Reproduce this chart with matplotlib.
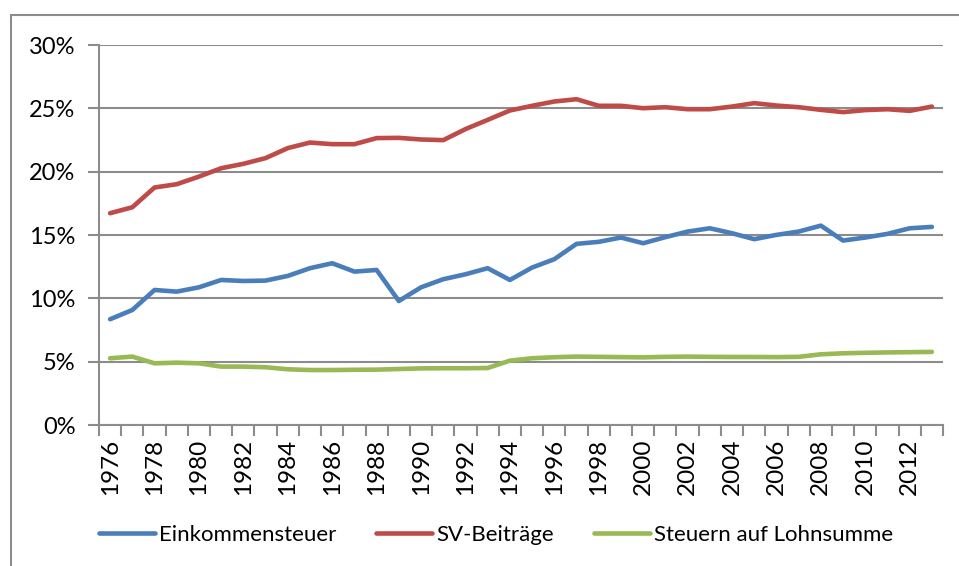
import numpy as np
import matplotlib
matplotlib.use("Agg")
import matplotlib.pyplot as plt
from matplotlib.ticker import FixedLocator, FuncFormatter
from matplotlib.patches import Rectangle

plt.rcParams['font.family'] = ['Lato', 'DejaVu Sans']

years = list(range(1976, 2014))

# Anteile in Prozent
einkommensteuer = [8.35, 9.08, 10.66, 10.53, 10.87, 11.45, 11.37, 11.40, 11.77, 12.38,
                   12.77, 12.11, 12.24, 9.79, 10.87, 11.51, 11.90, 12.38, 11.45, 12.43,
                   13.09, 14.30, 14.46, 14.80, 14.35, 14.83, 15.27, 15.53, 15.14, 14.67,
                   15.01, 15.27, 15.74, 14.56, 14.80, 15.09, 15.53, 15.64]
sv_beitraege = [16.72, 17.19, 18.75, 19.01, 19.61, 20.27, 20.62, 21.07, 21.86, 22.30,
                22.17, 22.17, 22.65, 22.67, 22.54, 22.49, 23.36, 24.09, 24.83, 25.20,
                25.54, 25.72, 25.20, 25.20, 25.01, 25.09, 24.93, 24.93, 25.14, 25.41,
                25.22, 25.09, 24.88, 24.70, 24.86, 24.93, 24.80, 25.14]
lohnsumme = [5.27, 5.40, 4.87, 4.92, 4.87, 4.61, 4.61, 4.56, 4.40, 4.34,
             4.34, 4.36, 4.37, 4.42, 4.47, 4.48, 4.48, 4.50, 5.08, 5.27,
             5.35, 5.40, 5.38, 5.36, 5.34, 5.38, 5.40, 5.38, 5.37, 5.37,
             5.36, 5.38, 5.58, 5.66, 5.70, 5.73, 5.75, 5.77]

labels = ["Einkommensteuer", "SV-Beiträge", "Steuern auf Lohnsumme"]
colors = ["#4a7ebb", "#be4b48", "#98b954"]
grid_col = "#8c8c8c"

fig = plt.figure(figsize=(9.59, 5.66), dpi=100)
ax = fig.add_axes([99/959, 1 - 425/566, 844/959, 380/566])

x = np.arange(len(years))
for vals, lab, col in zip([einkommensteuer, sv_beitraege, lohnsumme], labels, colors):
    ax.plot(x, vals, color=col, lw=3.3, label=lab, solid_capstyle='round',
            solid_joinstyle='round')

ax.set_xlim(-0.5, len(years) - 0.5)
ax.set_ylim(0, 30)
ax.set_yticks(np.arange(0, 31, 5))
ax.yaxis.set_major_formatter(FuncFormatter(lambda v, p: "%d%%" % v))
ax.grid(axis='y', color=grid_col, lw=1.5)
ax.set_axisbelow(True)

# Teilstriche zwischen den Kategorien, Beschriftung jedes zweite Jahr
ax.xaxis.set_major_locator(FixedLocator(np.arange(-0.5, len(years), 1.0)))
ax.xaxis.set_major_formatter(FuncFormatter(lambda v, p: ""))
ax.xaxis.set_minor_locator(FixedLocator(x[::2]))
ax.set_xticklabels([str(y) for y in years[::2]], minor=True, rotation=90)
ax.tick_params(axis='x', which='major', length=8, width=1.5, color=grid_col, direction='out')
ax.tick_params(axis='x', which='minor', length=0, pad=10, labelsize=17.5)
ax.tick_params(axis='y', length=8, width=1.5, color=grid_col, labelsize=17, pad=9)

for s in ['top', 'right']:
    ax.spines[s].set_visible(False)
for s in ['left', 'bottom']:
    ax.spines[s].set_color(grid_col)
    ax.spines[s].set_linewidth(1.5)

# Rahmen um das Diagramm
fig.patches.append(Rectangle((11/959, -0.1), 1.0, 1 - 15/566 + 0.1, transform=fig.transFigure,
                             fill=False, edgecolor=grid_col, lw=1.5))

fig.legend(loc='center left', bbox_to_anchor=(99/959, 1 - 535/566), ncol=3, frameon=False,
           fontsize=16, handlelength=2.5, handletextpad=0.2, columnspacing=1.8,
           borderaxespad=0, borderpad=0)

fig.savefig("out.png", dpi=100)
